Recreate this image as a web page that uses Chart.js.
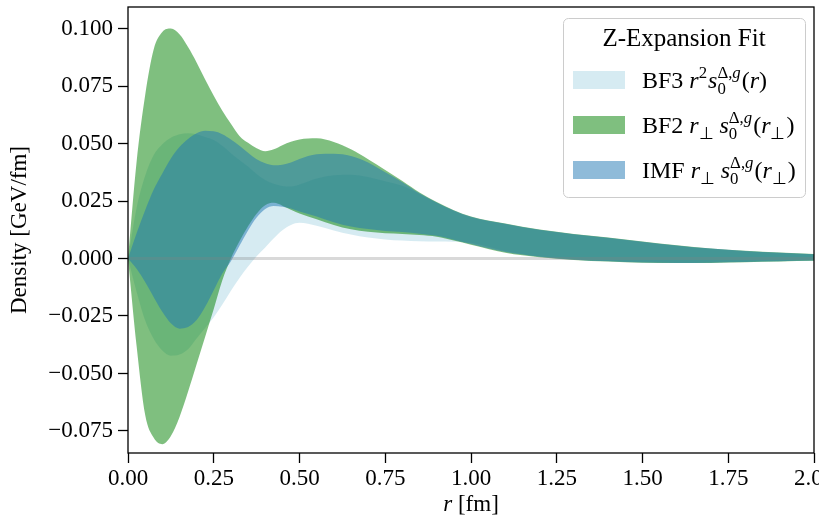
<!DOCTYPE html>
<html>
<head>
<meta charset="utf-8">
<script src="https://cdn.jsdelivr.net/npm/chart.js@4/dist/chart.umd.min.js"></script>
<style>
html,body{margin:0;padding:0;background:#fff;}
#wrap{width:819px;height:528px;position:relative;}
</style>
</head>
<body>
<div id="wrap"><canvas id="c" width="819" height="528"></canvas></div>
<script>
// ---- data ----
const rGrid = [0, 0.025, 0.05, 0.075, 0.1, 0.125, 0.15, 0.175, 0.2, 0.225, 0.25, 0.275, 0.3, 0.325, 0.35, 0.375, 0.4, 0.425, 0.45, 0.475, 0.5,
  0.55, 0.6, 0.65, 0.7, 0.75, 0.8, 0.85, 0.9, 0.95, 1.0,
  1.1, 1.2, 1.3, 1.4, 1.5, 1.6, 1.7, 1.8, 1.9, 2.0];

const bf3Upper = [0, 0.022, 0.036, 0.045, 0.0497, 0.0525, 0.054, 0.0545, 0.054, 0.0528, 0.0515, 0.049, 0.0458, 0.0428, 0.040, 0.0368, 0.0342, 0.0325, 0.0315, 0.0313, 0.0322,
  0.0348, 0.0362, 0.0364, 0.0354, 0.0336, 0.0316, 0.0281, 0.0242, 0.0207, 0.018,
  0.015, 0.0124, 0.0105, 0.0089, 0.0072, 0.0056, 0.0042, 0.0032, 0.0025, 0.0019];
const bf3Lower = [0, -0.0145, -0.027, -0.035, -0.040, -0.0423, -0.0418, -0.0395, -0.0348, -0.0302, -0.0255, -0.020, -0.014, -0.0085, -0.0035, 0.001, 0.0048, 0.0088, 0.0123, 0.0146, 0.0155,
  0.0142, 0.0122, 0.0104, 0.0091, 0.0083, 0.0078, 0.0075, 0.0074, 0.0073, 0.0068,
  0.0032, 0.0009, -0.0004, -0.0011, -0.0016, -0.0018, -0.0017, -0.0015, -0.0012, -0.0009];

const bf2Upper = [0, 0.042, 0.071, 0.091, 0.0985, 0.100, 0.0975, 0.092, 0.0853, 0.0779, 0.0708, 0.0643, 0.0586, 0.0533, 0.0503, 0.048, 0.0467, 0.0475, 0.0493, 0.0508, 0.0518,
  0.0523, 0.0507, 0.0475, 0.0432, 0.0385, 0.0337, 0.0287, 0.0246, 0.021, 0.0183,
  0.0152, 0.0126, 0.0107, 0.0091, 0.0074, 0.0058, 0.0044, 0.0034, 0.0026, 0.002];
const bf2Lower = [0, -0.038, -0.068, -0.078, -0.0808, -0.0772, -0.069, -0.058, -0.046, -0.034, -0.022, -0.0095, 0.0, 0.0075, 0.014, 0.0195, 0.0232, 0.0242, 0.0230, 0.0212, 0.0196,
  0.0171, 0.0146, 0.0127, 0.0116, 0.011, 0.0107, 0.0102, 0.0095, 0.0078, 0.006,
  0.0025, 0.0006, -0.0006, -0.0013, -0.0018, -0.002, -0.0019, -0.0016, -0.0013, -0.001];

const imfUpper = [0, 0.011, 0.021, 0.030, 0.037, 0.0435, 0.0485, 0.052, 0.0545, 0.0556, 0.0553, 0.0541, 0.0518, 0.049, 0.046, 0.0432, 0.0414, 0.0406, 0.0408, 0.0418, 0.0433,
  0.0454, 0.0456, 0.0446, 0.0418, 0.0375, 0.0332, 0.0284, 0.0244, 0.0209, 0.0182,
  0.0151, 0.0125, 0.0106, 0.009, 0.0073, 0.0057, 0.0043, 0.0033, 0.0025, 0.0019];
const imfLower = [0, -0.0045, -0.0102, -0.0168, -0.0232, -0.0282, -0.0305, -0.0298, -0.0268, -0.021, -0.0138, -0.0065, -0.0012, 0.0055, 0.0122, 0.0178, 0.0215, 0.0228, 0.0225, 0.0218, 0.0205,
  0.0183, 0.0158, 0.0139, 0.0128, 0.012, 0.0115, 0.0108, 0.0099, 0.0082, 0.0063,
  0.0028, 0.0008, -0.0005, -0.0012, -0.0017, -0.0019, -0.0018, -0.0015, -0.0012, -0.0009];

const zeroX = [0, 2];
const zeroY = [0, 0];

const xTickVals = [0, 0.25, 0.5, 0.75, 1.0, 1.25, 1.5, 1.75, 2.0];
const xTickLabels = ["0.00", "0.25", "0.50", "0.75", "1.00", "1.25", "1.50", "1.75", "2.00"];
const yTickVals = [-0.075, -0.05, -0.025, 0, 0.025, 0.05, 0.075, 0.1];
const yTickLabels = ["\u22120.075", "\u22120.050", "\u22120.025", "0.000", "0.025", "0.050", "0.075", "0.100"];

const legendTitle = "Z-Expansion Fit";
const seriesNames = ["BF3", "BF2", "IMF"];

// ---- styling ----
const FONT = "'Liberation Serif', 'Times New Roman', serif";
const C_BF3 = 'rgba(173,216,230,0.5)';
const C_BF2 = 'rgba(0,128,0,0.5)';
const C_IMF = 'rgba(31,119,180,0.5)';

function pts(ys) { return rGrid.map((r, i) => ({ x: r, y: ys[i] })); }
function band(label, ys, color, fill, order) {
  return { label, data: pts(ys), borderWidth: 0, borderColor: 'transparent', backgroundColor: color,
    fill, pointRadius: 0, cubicInterpolationMode: 'monotone', order };
}

// rich text: pieces {t, i} or {sub, sup} (sub/sup are arrays of {t,i})
function drawRich(ctx, x, y, pieces, size) {
  const small = size * 0.7;
  const setF = (it, s) => { ctx.font = (it ? 'italic ' : '') + s + 'px ' + FONT; };
  const run = (arr, x0, y0, s, draw) => {
    let xx = x0;
    for (const p of arr) { setF(p.i, s); if (draw) ctx.fillText(p.t, xx, y0); xx += ctx.measureText(p.t).width; }
    return xx - x0;
  };
  for (const p of pieces) {
    if (p.t !== undefined) {
      x += run([p], x, y, size, true);
    } else {
      let w = 0;
      if (p.sup) w = Math.max(w, run(p.sup, x, y - size * 0.42, small, true));
      if (p.sub) w = Math.max(w, run(p.sub, x, y + size * 0.26, small, true));
      x += w + size * 0.04;
    }
  }
  return x;
}

const supDg = [{ t: '\u0394,' }, { t: 'g', i: 1 }];
const perp = [{ t: '\u22A5' }];
const legendRows = [
  { name: seriesNames[0], color: C_BF3, pieces: [{ t: seriesNames[0] + ' ' }, { t: 'r', i: 1 }, { sup: [{ t: '2' }] }, { t: 's', i: 1 }, { sub: [{ t: '0' }], sup: supDg }, { t: '(' }, { t: 'r', i: 1 }, { t: ')' }] },
  { name: seriesNames[1], color: C_BF2, pieces: [{ t: seriesNames[1] + ' ' }, { t: 'r', i: 1 }, { sub: perp }, { t: '\u2009' }, { t: 's', i: 1 }, { sub: [{ t: '0' }], sup: supDg }, { t: '(' }, { t: 'r', i: 1 }, { sub: perp }, { t: ')' }] },
  { name: seriesNames[2], color: C_IMF, pieces: [{ t: seriesNames[2] + ' ' }, { t: 'r', i: 1 }, { sub: perp }, { t: '\u2009' }, { t: 's', i: 1 }, { sub: [{ t: '0' }], sup: supDg }, { t: '(' }, { t: 'r', i: 1 }, { sub: perp }, { t: ')' }] }
];

const extras = {
  id: 'extras',
  afterDatasetsDraw(chart) {
    const { ctx, chartArea: a } = chart;
    ctx.save();
    ctx.strokeStyle = '#000';
    ctx.lineWidth = 1.3;
    ctx.strokeRect(a.left, a.top, a.right - a.left, a.bottom - a.top);
    ctx.restore();
  },
  afterDraw(chart) {
    const { ctx, chartArea: a } = chart;
    ctx.save();
    ctx.fillStyle = '#000';
    ctx.textBaseline = 'alphabetic';
    // x axis title: italic r + " [fm]"
    const size = 23;
    ctx.font = 'italic ' + size + 'px ' + FONT;
    const w1 = ctx.measureText('r').width;
    ctx.font = size + 'px ' + FONT;
    const w2 = ctx.measureText(' [fm]').width;
    const cx = (a.left + a.right) / 2;
    drawRich(ctx, cx - (w1 + w2) / 2, 511, [{ t: 'r', i: 1 }, { t: ' [fm]' }], size);

    // legend
    const L = { x: 563, y: 18, w: 242, h: 179, r: 5 };
    ctx.beginPath();
    ctx.roundRect(L.x + 0.5, L.y + 0.5, L.w, L.h, L.r);
    ctx.fillStyle = 'rgba(255,255,255,0.8)';
    ctx.fill();
    ctx.strokeStyle = '#cccccc';
    ctx.lineWidth = 1;
    ctx.stroke();
    ctx.fillStyle = '#000';
    ctx.font = '25px ' + FONT;
    ctx.textAlign = 'center';
    ctx.fillText(legendTitle, L.x + L.w / 2, 46);
    ctx.textAlign = 'left';
    const baselines = [88, 133, 178];
    legendRows.forEach((row, k) => {
      const b = baselines[k];
      ctx.fillStyle = row.color;
      ctx.fillRect(573, b - 17, 52, 18);
      ctx.fillStyle = '#000';
      drawRich(ctx, 642, b, row.pieces, 24);
    });
    ctx.restore();
  }
};

new Chart(document.getElementById('c'), {
  type: 'line',
  data: {
    datasets: [
      band('BF3 upper', bf3Upper, C_BF3, '+1', 3),
      band('BF3 lower', bf3Lower, C_BF3, false, 3),
      band('BF2 upper', bf2Upper, C_BF2, '+1', 2),
      band('BF2 lower', bf2Lower, C_BF2, false, 2),
      band('IMF upper', imfUpper, C_IMF, '+1', 1),
      band('IMF lower', imfLower, C_IMF, false, 1),
      { label: 'zero', data: zeroX.map((x, i) => ({ x, y: zeroY[i] })), borderColor: 'rgba(128,128,128,0.3)',
        borderWidth: 3, pointRadius: 0, fill: false, order: 0 }
    ]
  },
  options: {
    responsive: false,
    animation: false,
    events: [],
    layout: { padding: { left: 0, right: 5, top: 7, bottom: 0 } },
    plugins: { legend: { display: false }, tooltip: { enabled: false } },
    scales: {
      x: {
        type: 'linear', min: 0, max: 2,
        afterBuildTicks: s => { s.ticks = xTickVals.map(v => ({ value: v })); },
        afterFit: s => { s.height = 75; s.paddingLeft = 0; s.paddingRight = 0; },
        ticks: { callback: (v, i) => xTickLabels[i], font: { family: FONT, size: 23 }, color: '#000', padding: 2, maxRotation: 0, autoSkip: false },
        grid: { display: true, drawOnChartArea: false, drawTicks: true, tickLength: 10, tickWidth: 1.3, tickColor: '#000' },
        border: { display: false }
      },
      y: {
        type: 'linear', min: -0.0846, max: 0.1094,
        afterBuildTicks: s => { s.ticks = yTickVals.map(v => ({ value: v })); },
        afterFit: s => { s.width = 128; s.paddingTop = 0; s.paddingBottom = 0; },
        ticks: { callback: (v, i) => yTickLabels[i], font: { family: FONT, size: 23 }, color: '#000', padding: 5, autoSkip: false },
        grid: { display: true, drawOnChartArea: false, drawTicks: true, tickLength: 10, tickWidth: 1.3, tickColor: '#000' },
        border: { display: false },
        title: { display: true, text: 'Density [GeV/fm]', font: { family: FONT, size: 23 }, color: '#000', padding: { top: 6, bottom: 0 } }
      }
    }
  },
  plugins: [extras]
});
</script>
</body>
</html>
